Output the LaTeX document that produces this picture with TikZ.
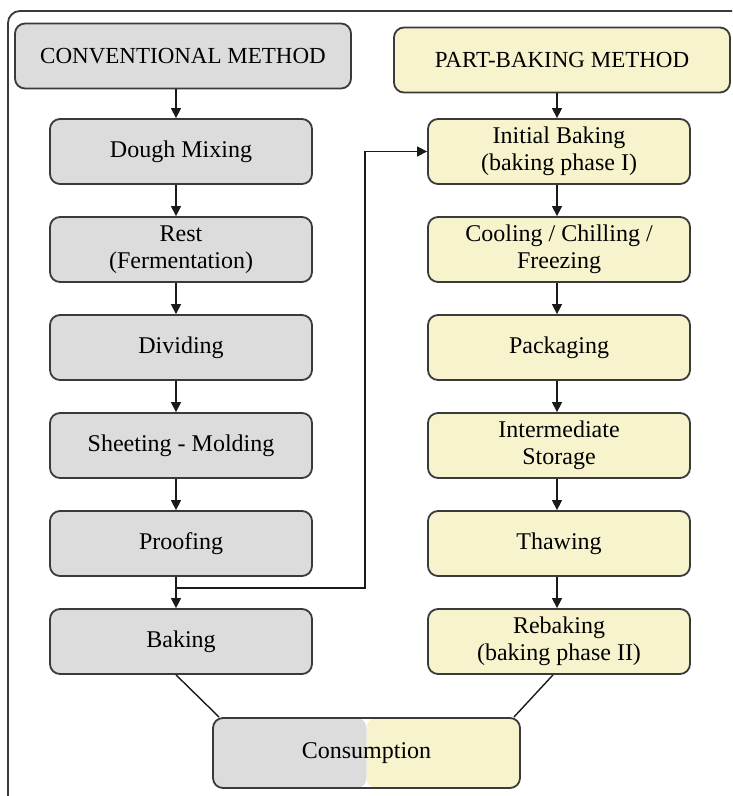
\documentclass[tikz,border=0pt]{standalone}
\usepackage{fontspec}
\setmainfont{Liberation Serif}
\usepackage{tikz}
\usetikzlibrary{calc,arrows.meta}
\definecolor{convGrey}{HTML}{DCDCDC}
\definecolor{partYellow}{HTML}{F6F3CD}
\definecolor{boxLine}{HTML}{3A3A3A}
\definecolor{flowBlack}{HTML}{1A1A1A}
\tikzset{
  headbox/.style={rectangle, rounded corners=5pt, draw=boxLine, fill=#1, line width=0.9pt, align=center, font=\fontsize{11.5}{13}\selectfont, minimum width=168pt, minimum height=32.5pt, inner sep=2pt},
  stepbox/.style={rectangle, rounded corners=5pt, draw=boxLine, fill=#1, line width=0.9pt, align=center, font=\fontsize{12}{13.5}\selectfont, minimum width=131pt, minimum height=32.5pt, inner sep=2pt},
  flowarrow/.style={-{Triangle[length=5pt,width=5pt]}, line width=0.7pt, draw=flowBlack},
  flowline/.style={line width=0.7pt, draw=flowBlack},
  framebox/.style={line width=0.9pt, draw=boxLine, rounded corners=6pt},
}
\begin{document}
\begin{tikzpicture}[x=0.5pt,y=-0.5pt]
      \useasboundingbox (0,0) rectangle (732,796);
      % outer frame, cut by the page on the right and bottom
      \draw[framebox] (8,796) -- (8,11) -- (732,11);

      \node[headbox=convGrey] (conv) at (183,56) {CONVENTIONAL METHOD};
      \node[headbox=partYellow] (part) at (562,60) {PART-BAKING METHOD};

      % conventional column
      \node[stepbox=convGrey] (mix) at (181,151.5) {Dough Mixing};
      \node[stepbox=convGrey] (rest) at (181,249.5) {Rest\\(Fermentation)};
      \node[stepbox=convGrey] (divide) at (181,347.5) {Dividing};
      \node[stepbox=convGrey] (sheet) at (181,445.5) {Sheeting - Molding};
      \node[stepbox=convGrey] (proof) at (181,543.5) {Proofing};
      \node[stepbox=convGrey] (bake) at (181,641.5) {Baking};

      % part-baking column
      \node[stepbox=partYellow] (initial) at (559,151.5) {Initial Baking\\(baking phase I)};
      \node[stepbox=partYellow] (cool) at (559,249.5) {Cooling / Chilling /\\Freezing};
      \node[stepbox=partYellow] (pack) at (559,347.5) {Packaging};
      \node[stepbox=partYellow] (store) at (559,445.5) {Intermediate\\Storage};
      \node[stepbox=partYellow] (thaw) at (559,543.5) {Thawing};
      \node[stepbox=partYellow] (rebake) at (559,641.5) {Rebaking\\(baking phase II)};

      \node[stepbox=white, minimum width=153.5pt, minimum height=35pt,
        path picture={
          \fill[convGrey] (path picture bounding box.south west) rectangle (path picture bounding box.north);
          \fill[partYellow] (path picture bounding box.south) rectangle (path picture bounding box.north east);
        }] (cons) at (366.5,753) {Consumption};

      \draw[flowarrow] (conv.south -| 176,0) -- (mix.north -| 176,0);
      \draw[flowarrow] (mix.south -| 176,0) -- (rest.north -| 176,0);
      \draw[flowarrow] (rest.south -| 176,0) -- (divide.north -| 176,0);
      \draw[flowarrow] (divide.south -| 176,0) -- (sheet.north -| 176,0);
      \draw[flowarrow] (sheet.south -| 176,0) -- (proof.north -| 176,0);
      \draw[flowarrow] (proof.south -| 176,0) -- (bake.north -| 176,0);

      \draw[flowarrow] (part.south -| 557,0) -- (initial.north -| 557,0);
      \draw[flowarrow] (initial.south -| 557,0) -- (cool.north -| 557,0);
      \draw[flowarrow] (cool.south -| 557,0) -- (pack.north -| 557,0);
      \draw[flowarrow] (pack.south -| 557,0) -- (store.north -| 557,0);
      \draw[flowarrow] (store.south -| 557,0) -- (thaw.north -| 557,0);
      \draw[flowarrow] (thaw.south -| 557,0) -- (rebake.north -| 557,0);

      % branch from proofing to the part-baking line
      \coordinate (split) at (176,588);
      \draw[flowarrow] (split) -- (365,588) |- (initial.west);

      \draw[flowline] (bake.south -| 176,0) -- ($(cons.north west)+(7,0)$);
      \draw[flowline] (rebake.south -| 553,0) -- ($(cons.north east)+(-7,0)$);
    \end{tikzpicture}
\end{document}
